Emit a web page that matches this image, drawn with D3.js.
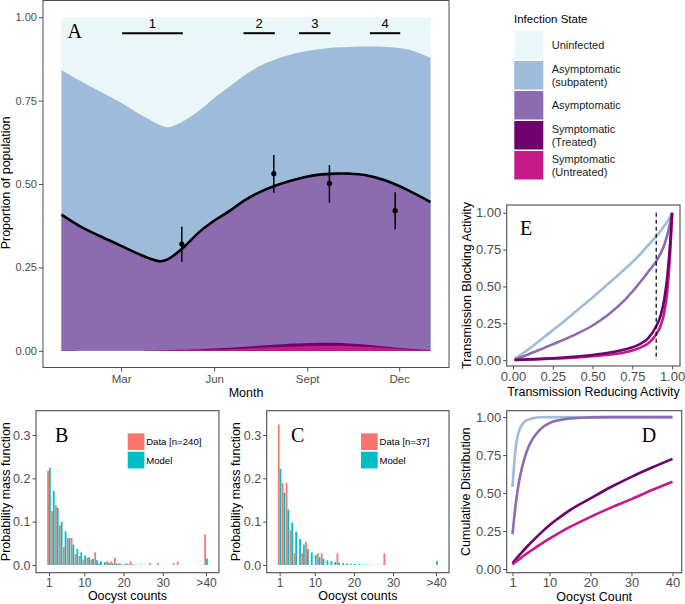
<!DOCTYPE html>
<html><head><meta charset="utf-8">
<script src="https://cdn.jsdelivr.net/npm/d3@7/dist/d3.min.js"></script>
<style>body{margin:0;background:#fff}svg{display:block}text{font-family:"Liberation Sans",Arial,Helvetica,sans-serif}</style>
</head><body><svg id="c" width="685" height="604"></svg>
<script>
// ---------- Panel A data ----------
const daysA = [0,18,38,58,78,91,98,105,119,137,152,167,181,195,210,225,240,255,270,285,300,320,343,365];
const prevalence = [0.408,0.374,0.344,0.316,0.288,0.273,0.268,0.274,0.305,0.358,0.392,0.421,0.451,0.474,0.493,0.508,0.520,0.528,0.531,0.531,0.527,0.511,0.481,0.446];
const subpatentTop = [0.842,0.810,0.777,0.745,0.708,0.686,0.676,0.670,0.686,0.722,0.760,0.794,0.826,0.852,0.872,0.887,0.897,0.904,0.909,0.911,0.912,0.911,0.903,0.878];
const symptomaticTotal = [0.001,0.0005,0.0003,0.0003,0.0005,0.001,0.0015,0.002,0.003,0.005,0.007,0.009,0.012,0.015,0.018,0.021,0.023,0.024,0.024,0.022,0.019,0.013,0.006,0.002];
const symptomaticUntreated = [0.0006,0.0003,0.0002,0.0002,0.0003,0.0006,0.0009,0.0012,0.002,0.003,0.004,0.005,0.007,0.009,0.011,0.012,0.014,0.015,0.015,0.014,0.012,0.009,0.004,0.0015];
const obsDays = [119,210,265,330];
const obsValue = [0.320,0.531,0.502,0.420];
const obsLow = [0.267,0.474,0.444,0.364];
const obsHigh = [0.372,0.587,0.557,0.475];
const seasonLabels = ["1","2","3","4"];
const seasonStart = [60,180,235,305];
const seasonEnd = [120,211,266,335];
const monthTickDays = [59,151,243,334];
const monthTickLabels = ["Mar","Jun","Sept","Dec"];
const stateNames = ["Uninfected","Asymptomatic\n(subpatent)","Asymptomatic","Symptomatic\n(Treated)","Symptomatic\n(Untreated)"];
const stateColors = ["#eaf6f8","#9ebcda","#8c6bb1","#6e016b","#c51b8a"];

// ---------- Panel B / C data (counts 1..40, then >40) ----------
const oocystCounts = d3.range(1,42);
const dataB = [0.217,0.125,0.1375,0.0917,0.0417,0.0625,0.0625,0.025,0.0208,0.0125,0.0167,0.0125,0.0292,0.0042,0,0.0083,0.0083,0.0167,0.0042,0,0.0042,0.0083,0,0,0,0,0.0042,0,0.0042,0,0,0,0.0042,0.0083,0,0,0,0,0,0,0.0708];
const modelB = [0.224,0.171,0.132,0.100,0.078,0.062,0.047,0.037,0.029,0.022,0.018,0.014,0.011,0.0085,0.0068,0.0053,0.0042,0.0034,0.0027,0.0021,0.0017,0.0014,0.0011,0.0009,0.0007,0.0006,0.0005,0.0004,0.0003,0.0003,0.0002,0.0002,0.0002,0.0001,0.0001,0.0001,0.0001,0.0001,0.0001,0.0001,0.015];
const dataC = [0.324,0.189,0.189,0.081,0.027,0,0.027,0.054,0,0,0.027,0.027,0,0,0,0.027,0,0,0,0,0,0,0,0,0,0,0,0.027,0,0,0,0,0,0,0,0,0,0,0,0,0];
const modelC = [0.222,0.167,0.128,0.098,0.077,0.060,0.047,0.037,0.029,0.023,0.018,0.014,0.011,0.009,0.007,0.0055,0.0044,0.0035,0.0028,0.0022,0.0018,0.0014,0.0011,0.0009,0.0007,0.0006,0.0005,0.0004,0.0003,0.0003,0.0002,0.0002,0.0002,0.0001,0.0001,0.0001,0.0001,0.0001,0.0001,0.0001,0.009];

// ---------- Panel E data ----------
const traGrid = [0.01,0.1,0.2,0.3,0.4,0.5,0.6,0.7,0.8,0.85,0.9,0.93,0.95,0.97,0.98,0.99,1.0];
const tbaSubpatent = [0.008,0.075,0.16,0.245,0.335,0.425,0.52,0.615,0.72,0.78,0.84,0.88,0.91,0.942,0.96,0.98,1.0];
const tbaAsymptomatic = [0.003,0.04,0.085,0.13,0.178,0.235,0.31,0.405,0.53,0.60,0.67,0.73,0.78,0.85,0.895,0.945,1.0];
const tbaTreated = [0.0005,0.005,0.01,0.016,0.024,0.035,0.05,0.072,0.11,0.15,0.23,0.31,0.41,0.57,0.69,0.83,1.0];
const tbaUntreated = [0.0004,0.004,0.008,0.012,0.018,0.026,0.036,0.052,0.085,0.115,0.175,0.24,0.32,0.47,0.60,0.77,1.0];

// ---------- Panel D data ----------
const countGrid = [1,1.5,2,2.5,3,4,5,6,8,10,12,15,20,25,30,35,40];
const cdfSubpatent = [0.54,0.72,0.84,0.90,0.935,0.97,0.985,0.993,0.999,1,1,1,1,1,1,1,1];
const cdfAsymptomatic = [0.23,0.36,0.47,0.56,0.63,0.735,0.81,0.86,0.925,0.96,0.978,0.991,0.998,1,1,1,1];
const cdfTreated = [0.04,0.056,0.072,0.087,0.102,0.132,0.16,0.187,0.24,0.288,0.33,0.388,0.465,0.54,0.607,0.668,0.725];
const cdfUntreated = [0.03,0.041,0.052,0.062,0.072,0.092,0.111,0.13,0.166,0.20,0.232,0.277,0.343,0.404,0.46,0.52,0.575];

const AX = "#4d4d4d";
const svg = d3.select("#c");
const smooth = d3.curveCatmullRom.alpha(0.5);

function styleAxis(g, size){
  g.select(".domain").remove();
  g.selectAll(".tick line").attr("stroke", AX);
  g.selectAll(".tick text").attr("fill", AX).style("font-size", size+"px").style("font-family", '"Liberation Sans",Arial,sans-serif');
}
function letter(x,y,t){
  svg.append("text").attr("x",x).attr("y",y).text(t)
    .style("font-family",'"Liberation Serif","DejaVu Serif",serif').style("font-size","20px").attr("fill","#000");
}
function titleText(x,y,t,rot,size){
  const el = svg.append("text").attr("text-anchor","middle").style("font-size",(size||12.5)+"px").attr("fill","#000").text(t);
  if(rot) el.attr("transform",`translate(${x},${y}) rotate(-90)`); else el.attr("x",x).attr("y",y);
}

// ================= Panel A =================
const xA = d3.scaleLinear().domain([-18.25,383.25]).range([43,449]);
const yA = d3.scaleLinear().domain([-0.05,1.05]).range([367.5,0.5]);
const rowsA = daysA.map((d,i)=>({d, u:symptomaticUntreated[i], s:symptomaticTotal[i], p:prevalence[i], sp:subpatentTop[i]}));
const tops = [r=>1, r=>r.sp, r=>r.p, r=>r.s, r=>r.u];
const gA = svg.append("g");
tops.forEach((f,i)=>{
  gA.append("path").datum(rowsA)
    .attr("d", d3.area().x(r=>xA(r.d)).y0(yA(0)).y1(r=>yA(f(r))).curve(smooth))
    .attr("fill", stateColors[i]);
});
gA.append("path").datum(rowsA)
  .attr("d", d3.line().x(r=>xA(r.d)).y(r=>yA(r.p)).curve(smooth))
  .attr("fill","none").attr("stroke","#000").attr("stroke-width",2.6);
obsDays.forEach((d,i)=>{
  gA.append("line").attr("x1",xA(d)).attr("x2",xA(d)).attr("y1",yA(obsLow[i])).attr("y2",yA(obsHigh[i])).attr("stroke","#000").attr("stroke-width",1.5);
  gA.append("circle").attr("cx",xA(d)).attr("cy",yA(obsValue[i])).attr("r",2.6).attr("fill","#000");
});
seasonLabels.forEach((l,i)=>{
  gA.append("line").attr("x1",xA(seasonStart[i])).attr("x2",xA(seasonEnd[i])).attr("y1",yA(0.952)).attr("y2",yA(0.952)).attr("stroke","#000").attr("stroke-width",2);
  gA.append("text").attr("x",(xA(seasonStart[i])+xA(seasonEnd[i]))/2).attr("y",yA(0.952)-5).attr("text-anchor","middle").style("font-size","13px").text(l);
});
svg.append("rect").attr("x",43).attr("y",0.5).attr("width",406).attr("height",367).attr("fill","none").attr("stroke",AX).attr("stroke-width",1);
svg.append("g").attr("transform","translate(43,0)")
  .call(d3.axisLeft(yA).tickValues([0,0.25,0.5,0.75,1]).tickFormat(d3.format(".2f")).tickSize(4).tickPadding(2))
  .call(g=>styleAxis(g,11));
svg.append("g").attr("transform","translate(0,367.5)")
  .call(d3.axisBottom(xA).tickValues(monthTickDays).tickFormat((d,i)=>monthTickLabels[i]).tickSize(4).tickPadding(3))
  .call(g=>styleAxis(g,11.5));
titleText(246,397,"Month");
titleText(10,183,"Proportion of population",true);
letter(67.5,38.3,"A");

// Legend
const lg = svg.append("g");
lg.append("text").attr("x",514).attr("y",23).style("font-size","11.5px").text("Infection State");
stateNames.forEach((n,i)=>{
  const y0 = 31 + i*30;
  lg.append("rect").attr("x",514.3).attr("y",y0).attr("width",29).attr("height",28.5).attr("fill",stateColors[i]);
  const lines = n.split("\n");
  const cy = y0 + 14.25;
  lines.forEach((t,j)=>{
    const by = lines.length===1 ? cy+4 : cy - 2.3 + j*12.7;
    lg.append("text").attr("x",551.7).attr("y",by).style("font-size","11px").attr("fill","#1a1a1a").text(t);
  });
});

// ================= Panels B and C =================
function hist(cfg){
  const x = d3.scaleLinear().domain([-2.3,44.3]).range([cfg.x0,cfg.x1]);
  const y = d3.scaleLinear().domain([0,0.3]).range([565,435]);
  const g = svg.append("g");
  const w = 0.45;
  oocystCounts.forEach((c,i)=>{
    if(cfg.data[i]>0) g.append("rect").attr("x",x(c-w)).attr("width",x(c)-x(c-w)).attr("y",y(cfg.data[i])).attr("height",y(0)-y(cfg.data[i])).attr("fill","#F8766D");
    g.append("rect").attr("x",x(c)).attr("width",x(c+w)-x(c)).attr("y",y(cfg.model[i])).attr("height",y(0)-y(cfg.model[i])).attr("fill","#00BFC4");
  });
  svg.append("rect").attr("x",cfg.x0).attr("y",410.7).attr("width",cfg.x1-cfg.x0).attr("height",162).attr("fill","none").attr("stroke",AX).attr("stroke-width",1.1);
  svg.append("g").attr("transform",`translate(${cfg.x0},0)`)
    .call(d3.axisLeft(y).tickValues([0,0.1,0.2,0.3]).tickFormat(d3.format(".1f")).tickSize(3.5).tickPadding(2))
    .call(g=>styleAxis(g,12.5));
  svg.append("g").attr("transform","translate(0,572.7)")
    .call(d3.axisBottom(x).tickValues([1,10,20,30,41]).tickFormat(d=>d===41?">40":d).tickSize(3.5).tickPadding(2))
    .call(g=>styleAxis(g,12));
  titleText((cfg.x0+cfg.x1)/2,600,"Oocyst counts");
  titleText(cfg.ytx,491.7,"Probability mass function",true);
  letter(cfg.lx,441.7,cfg.letter);
  const kx = cfg.kx;
  svg.append("rect").attr("x",kx).attr("y",433.3).attr("width",16.7).attr("height",16.7).attr("fill","#F8766D");
  svg.append("rect").attr("x",kx).attr("y",451.7).attr("width",16.7).attr("height",16.7).attr("fill","#00BFC4");
  svg.append("text").attr("x",kx+18.5).attr("y",445.3).style("font-size","9.6px").text(cfg.nLabel);
  svg.append("text").attr("x",kx+18.5).attr("y",463.5).style("font-size","9.6px").text("Model");
}
hist({x0:36,x1:219,data:dataB,model:modelB,letter:"B",lx:55,kx:127.7,nLabel:"Data [n=240]",ytx:9.5});
hist({x0:266.7,x1:449,data:dataC,model:modelC,letter:"C",lx:291,kx:361,nLabel:"Data [n=37]",ytx:240});

// ================= Panel E =================
const xE = d3.scaleLinear().domain([-0.0395,1.0495]).range([506.7,680]);
const yE = d3.scaleLinear().domain([-0.04,1.053]).range([366,205]);
const eSeries = [[tbaSubpatent,stateColors[1]],[tbaAsymptomatic,stateColors[2]],[tbaUntreated,stateColors[4]],[tbaTreated,stateColors[3]]];
eSeries.forEach(([vals,col])=>{
  svg.append("path").datum(traGrid.map((t,i)=>[t,vals[i]]))
    .attr("d", d3.line().x(d=>xE(d[0])).y(d=>yE(d[1])).curve(d3.curveMonotoneX))
    .attr("fill","none").attr("stroke",col).attr("stroke-width",2.6);
});
svg.append("line").attr("x1",xE(0.9)).attr("x2",xE(0.9)).attr("y1",yE(1)).attr("y2",yE(0)).attr("stroke","#000").attr("stroke-width",1.2).attr("stroke-dasharray","4,3");
svg.append("rect").attr("x",506.7).attr("y",205).attr("width",173.3).attr("height",161).attr("fill","none").attr("stroke",AX).attr("stroke-width",1.1);
svg.append("g").attr("transform","translate(506.7,0)")
  .call(d3.axisLeft(yE).tickValues([0,0.25,0.5,0.75,1]).tickFormat(d3.format(".2f")).tickSize(3.5).tickPadding(2))
  .call(g=>styleAxis(g,13));
svg.append("g").attr("transform","translate(0,366)")
  .call(d3.axisBottom(xE).tickValues([0,0.25,0.5,0.75,1]).tickFormat(d3.format(".2f")).tickSize(3.5).tickPadding(2))
  .call(g=>styleAxis(g,13));
titleText(593.4,396,"Transmission Reducing Activity");
titleText(470.5,285.5,"Transmission Blocking Activity",true);
letter(520,235,"E");

// ================= Panel D =================
const xD = d3.scaleLinear().domain([-0.41,42.24]).range([506.7,681.7]);
const yD = d3.scaleLinear().domain([-0.024,1.042]).range([572.7,410.7]);
const dSeries = [[cdfSubpatent,stateColors[1]],[cdfAsymptomatic,stateColors[2]],[cdfTreated,stateColors[3]],[cdfUntreated,stateColors[4]]];
dSeries.forEach(([vals,col])=>{
  svg.append("path").datum(countGrid.map((c,i)=>[c,vals[i]]))
    .attr("d", d3.line().x(d=>xD(d[0])).y(d=>yD(d[1])).curve(d3.curveMonotoneX))
    .attr("fill","none").attr("stroke",col).attr("stroke-width",2.6);
});
svg.append("rect").attr("x",506.7).attr("y",410.7).attr("width",175).attr("height",162).attr("fill","none").attr("stroke",AX).attr("stroke-width",1.1);
svg.append("g").attr("transform","translate(506.7,0)")
  .call(d3.axisLeft(yD).tickValues([0,0.25,0.5,0.75,1]).tickFormat(d3.format(".2f")).tickSize(3.5).tickPadding(2))
  .call(g=>styleAxis(g,13));
svg.append("g").attr("transform","translate(0,572.7)")
  .call(d3.axisBottom(xD).tickValues([1,10,20,30,40]).tickSize(3.5).tickPadding(2))
  .call(g=>styleAxis(g,13));
titleText(594.2,601,"Oocyst Count");
titleText(470,491.7,"Cumulative Distribution",true);
letter(641.7,441.7,"D");
</script></body></html>
